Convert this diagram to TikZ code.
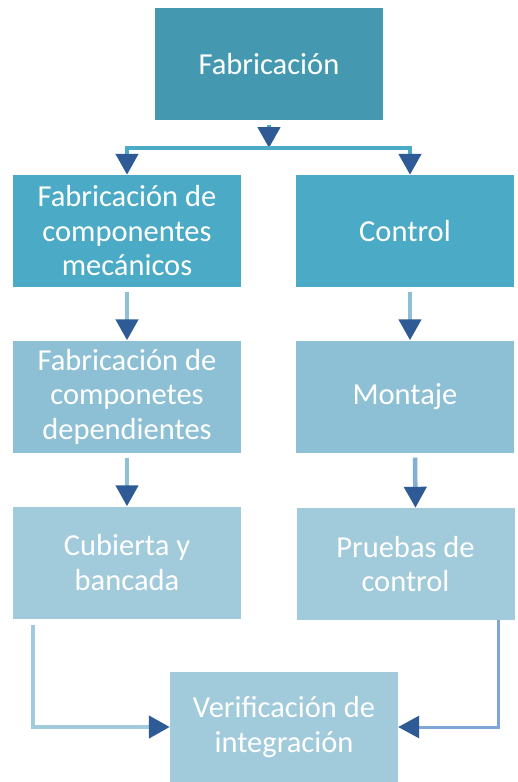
\documentclass[tikz,border=0pt]{standalone}
\usepackage{fontspec}
\setmainfont{Carlito}
\usetikzlibrary{arrows.meta}
\definecolor{boxdark}{HTML}{4499B1}
\definecolor{boxmid}{HTML}{4BABC6}
\definecolor{boxlight}{HTML}{8DC0D4}
\definecolor{boxpale}{HTML}{A1CADB}
\definecolor{tipblue}{HTML}{2E5B96}
\definecolor{lineblue}{HTML}{7EA6D9}
\tikzset{
  box/.style={rectangle, minimum width=228pt, minimum height=112pt, inner sep=0pt,
    text=white, align=center, font=\fontsize{30.5}{34.5}\selectfont},
  flow/.style={line width=4.5pt, -{Triangle[width=22pt,length=21pt,color=tipblue]}}
}

\begin{document}
\begin{tikzpicture}[x=1pt,y=-1pt]
\useasboundingbox (0,0) rectangle (517,782);
\node[box, fill=boxdark] (fab) at (269,64) {Fabricación};
\node[box, fill=boxmid] (fabcomp) at (127,231) {Fabricación de\\componentes\\mecánicos};
\node[box, fill=boxmid, minimum width=218pt] (control) at (405,231) {Control};
\node[box, fill=boxlight] (fabdep) at (127,396.5) {Fabricación de\\componetes\\dependientes};
\node[box, fill=boxlight, minimum width=218pt] (montaje) at (405,396.5) {Montaje};
\node[box, fill=boxpale] (cubierta) at (127,562.5) {Cubierta y\\bancada};
\node[box, fill=boxpale, minimum width=218pt] (pruebas) at (405.5,564) {Pruebas de\\control};
\node[box, fill=boxpale, minimum height=110pt] (verif) at (284,727) {Verificación de\\integración};
\coordinate (split) at (269,148);
%
%
\draw[flow, boxmid] ([yshift=-5pt]fab.south) -- (split);
\draw[flow, boxmid] (split) -| (fabcomp.north);
\draw[flow, boxmid] (split) -| ([xshift=5pt]control.north);
%
\draw[flow, boxlight] ([yshift=-5pt]fabcomp.south) -- (fabdep.north);
\draw[flow, boxlight] ([xshift=5pt,yshift=-5pt]control.south) -- ([xshift=5pt]montaje.north);
\draw[flow, boxlight] ([yshift=-5pt]fabdep.south) -- (cubierta.north);
\draw[flow, lineblue!70!boxlight] ([xshift=10pt,yshift=-5pt]montaje.south) -- ([xshift=10pt]pruebas.north);
%
\draw[flow, boxpale] ([xshift=-94pt,yshift=-6pt]cubierta.south) |- (verif.west);
\draw[flow, lineblue, line width=3pt] ([xshift=92.5pt]pruebas.south) |- (verif.east);
\end{tikzpicture}
\end{document}
